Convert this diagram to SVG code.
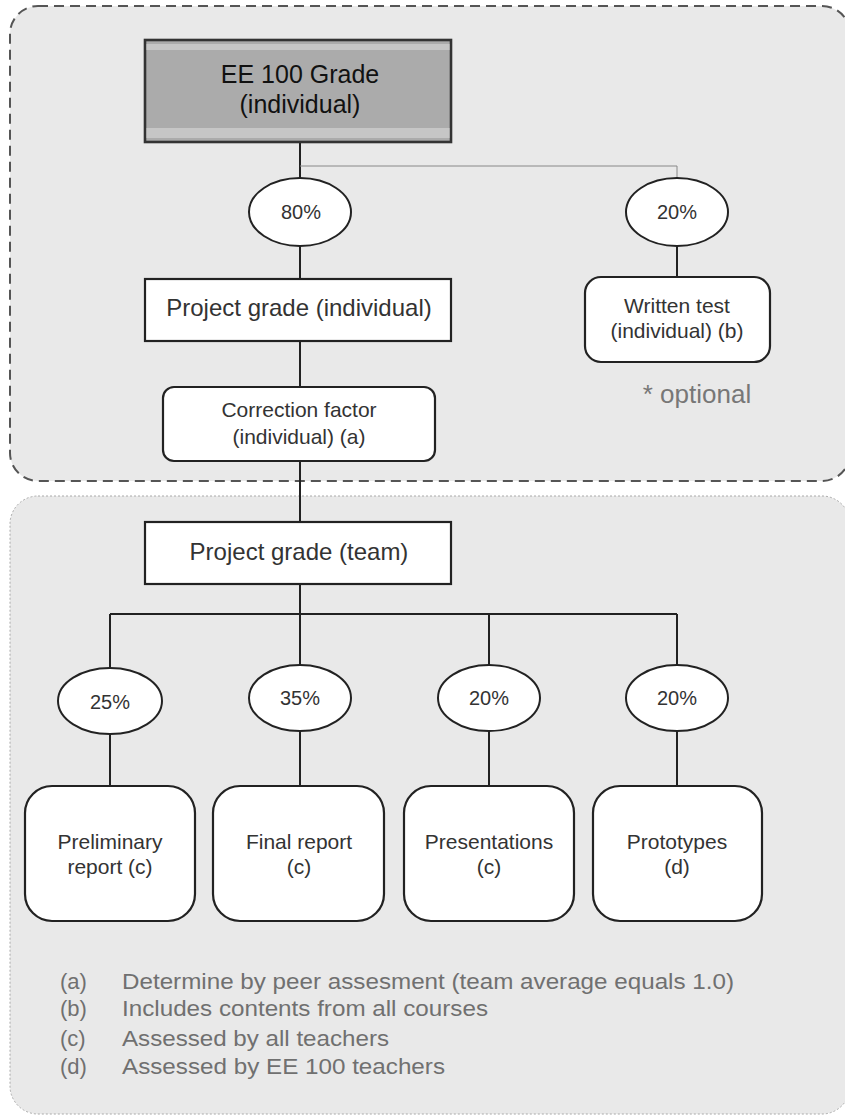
<svg xmlns="http://www.w3.org/2000/svg" width="845" height="1117" viewBox="0 0 845 1117">
<style>
text{font-family:"Liberation Sans",Arial,sans-serif;text-anchor:middle;fill:#333}
.box{fill:#fff;stroke:#222;stroke-width:2.2}
.ell{fill:#fff;stroke:#222;stroke-width:2}
.big{font-size:24px}
.mid{font-size:21px}
.pct{font-size:20px}
.leg{font-size:22px;fill:#707070;text-anchor:start}
.con{fill:none;stroke:#222;stroke-width:2}
.thin{fill:none;stroke:#888;stroke-width:1}
</style>
<rect width="845" height="1117" fill="#fff"/>
<g id="individual-area">
<rect x="10" y="6" width="840" height="475" rx="28" fill="#e9e9e9" stroke="#555" stroke-width="2" stroke-dasharray="10,6"/>
</g>
<g id="team-area">
<rect x="10" y="496" width="840" height="618" rx="28" fill="#e9e9e9" stroke="#aaa" stroke-width="1" stroke-dasharray="2,2"/>
</g>
<g id="connectors">
<path class="con" d="M300 142V178M300 246V279M300 341V387M300 461V522M300 584V614M110 614H677M110 614V668M300 614V665M489 614V665M677 614V665M110 734V786M300 731V786M489 731V786M677 731V786M677 246V277"/>
<path class="thin" d="M300 166H677V178"/>
</g>
<g id="ee100">
<rect x="145" y="40" width="306" height="102" fill="#ababab" stroke="#333" stroke-width="2.6"/>
<rect x="146.5" y="44" width="303" height="6" fill="#c6c6c6"/>
<rect x="146.5" y="128" width="303" height="10" fill="#c6c6c6"/>
<text x="300" y="83" font-size="25" style="fill:#111">EE 100 Grade</text>
<text x="300" y="113" font-size="25" style="fill:#111">(individual)</text>
</g>
<g id="p80">
<ellipse class="ell" cx="300" cy="212" rx="51" ry="34"/>
<text class="pct" x="301" y="219">80%</text>
</g>
<g id="p20-test">
<ellipse class="ell" cx="677" cy="212" rx="51" ry="34"/>
<text class="pct" x="677" y="219">20%</text>
</g>
<g id="project-individual">
<rect class="box" x="145" y="279" width="306" height="62"/>
<text class="big" x="299" y="316">Project grade (individual)</text>
</g>
<g id="written-test">
<rect class="box" x="585" y="277" width="185" height="85" rx="16"/>
<text class="mid" x="677" y="313">Written test</text>
<text class="mid" x="677" y="338">(individual) (b)</text>
</g>
<g id="optional-note">
<text x="697" y="403" font-size="26" style="fill:#777">* optional</text>
</g>
<g id="correction">
<rect class="box" x="163" y="387" width="272" height="74" rx="11"/>
<text class="mid" x="299" y="417">Correction factor</text>
<text class="mid" x="299" y="444">(individual) (a)</text>
</g>
<g id="project-team">
<rect class="box" x="145" y="522" width="306" height="62"/>
<text class="big" x="299" y="560">Project grade (team)</text>
</g>
<g id="p25">
<ellipse class="ell" cx="110" cy="701" rx="52" ry="33"/>
<text class="pct" x="110" y="709">25%</text>
</g>
<g id="p35">
<ellipse class="ell" cx="300" cy="698" rx="51" ry="33"/>
<text class="pct" x="300" y="705">35%</text>
</g>
<g id="p20a">
<ellipse class="ell" cx="489" cy="698" rx="51" ry="33"/>
<text class="pct" x="489" y="705">20%</text>
</g>
<g id="p20b">
<ellipse class="ell" cx="677" cy="698" rx="51" ry="33"/>
<text class="pct" x="677" y="705">20%</text>
</g>
<g id="preliminary">
<rect class="box" x="25" y="786" width="170" height="135" rx="27"/>
<text class="mid" x="110" y="849">Preliminary</text>
<text class="mid" x="110" y="874">report (c)</text>
</g>
<g id="final">
<rect class="box" x="213" y="786" width="171" height="135" rx="27"/>
<text class="mid" x="299" y="849">Final report</text>
<text class="mid" x="299" y="874">(c)</text>
</g>
<g id="presentations">
<rect class="box" x="404" y="786" width="170" height="135" rx="27"/>
<text class="mid" x="489" y="849">Presentations</text>
<text class="mid" x="489" y="874">(c)</text>
</g>
<g id="prototypes">
<rect class="box" x="593" y="786" width="169" height="135" rx="27"/>
<text class="mid" x="677" y="849">Prototypes</text>
<text class="mid" x="677" y="874">(d)</text>
</g>
<g id="legend">
<text class="leg" x="60" y="989">(a)</text><text class="leg" x="122" y="989" textLength="612" lengthAdjust="spacingAndGlyphs">Determine by peer assesment (team average equals 1.0)</text>
<text class="leg" x="60" y="1016">(b)</text><text class="leg" x="122" y="1016" textLength="366" lengthAdjust="spacingAndGlyphs">Includes contents from all courses</text>
<text class="leg" x="60" y="1046">(c)</text><text class="leg" x="122" y="1046" textLength="267" lengthAdjust="spacingAndGlyphs">Assessed by all teachers</text>
<text class="leg" x="60" y="1074">(d)</text><text class="leg" x="122" y="1074" textLength="323" lengthAdjust="spacingAndGlyphs">Assessed by EE 100 teachers</text>
</g>
</svg>
